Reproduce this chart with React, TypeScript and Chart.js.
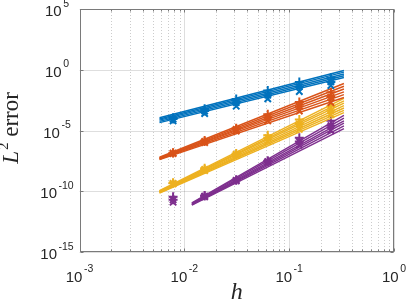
import React, { useEffect, useRef } from "react";
import { Chart, registerables } from "chart.js";
Chart.register(...registerables);

// ---- data ----
const H = [0.25, 0.125, 0.0625, 0.03125, 0.015625, 0.0078125];
const FIT_H = [0.0058, 0.333];
const FIT_H_PURPLE = [0.0118, 0.333];

const BLUE = "#0072BD";
const ORANGE = "#D95319";
const YELLOW = "#EDB120";
const PURPLE = "#7E2F8E";

const blueFitStart = [1.12e-4, 8.9e-5, 7.1e-5, 5.6e-5, 4.5e-5];
const blueFitEnd = [0.87, 0.63, 0.45, 0.32, 0.23];
const orangeFitStart = [6.3e-8, 5.6e-8, 5.0e-8, 5.0e-8, 4.5e-8, 4.0e-8];
const orangeFitEnd = [0.074, 0.044, 0.026, 0.015, 0.0089, 0.0052];
const yellowFitStart = [1.12e-10, 1e-10, 1e-10, 8.9e-11, 7.9e-11, 7.9e-11, 7.1e-11];
const yellowFitEnd = [0.0044, 0.0028, 0.0018, 0.0011, 7.1e-4, 4.5e-4, 3.0e-4];
const purpleFitStart = [1.12e-11, 1e-11, 8.9e-12, 7.9e-12, 7.9e-12, 7.1e-12];
const purpleFitEnd = [1.74e-4, 1.05e-4, 6.3e-5, 4.0e-5, 2.4e-5, 1.45e-5];

const blueX = [0.05, 0.016, 0.004, 1e-3, 2.5e-4, 6.3e-5];
const blueStar = [0.1, 0.04, 0.008, 0.002, 4e-4, 8.9e-5];
const bluePlus = [0.22, 0.1, 0.02, 0.004, 6.3e-4, 1.1e-4];
const orangeX = [0.002, 4e-4, 6.3e-5, 8.9e-6, 1e-6, 1.26e-7];
const orangeStar = [0.0056, 0.001, 1.26e-4, 1.26e-5, 1.26e-6, 1.4e-7];
const orangePlus = [0.014, 0.0022, 2.2e-4, 1.5e-5, 1.5e-6, 1.5e-7];
const yellowX = [2e-4, 1.26e-5, 1.26e-6, 8.9e-8, 5e-9, 4e-10];
const yellowStar = [4.5e-4, 3.5e-5, 2.5e-6, 1.12e-7, 6.3e-9, 4.5e-10];
const yellowPlus = [0.001, 8e-5, 4e-6, 1.26e-7, 7.9e-9, 5e-10];
const purpleX = [1e-5, 6.3e-7, 2.5e-8, 7.1e-10, 3.5e-11, 1.26e-11];
const purpleStar = [2.5e-5, 1.26e-6, 2.8e-8, 7.9e-10, 4e-11, 2e-11];
const purplePlus = [6.3e-5, 2.5e-6, 3.2e-8, 8.9e-10, 4.5e-11, 3.5e-11];

const X_TICK_DECADES = [-3, -2, -1, 0];
const X_TICK_EXP = ["-3", "-2", "-1", "0"];
const Y_TICK_DECADES = [5, 0, -5, -10, -15];
const Y_TICK_EXP = ["5", "0", "-5", "-10", "-15"];

const X_LABEL = "h";
const Y_LABEL_VAR = "L";
const Y_LABEL_SUP = "2";
const Y_LABEL_REST = " error";

// ---- helpers ----
function fitSets(xs: number[], starts: number[], ends: number[], color: string) {
  return starts.map((s, i) => ({
    data: [
      { x: xs[0], y: s },
      { x: xs[1], y: ends[i] },
    ],
    showLine: true,
    borderColor: color,
    backgroundColor: color,
    borderWidth: 1.4,
    pointRadius: 0,
  }));
}
function markerSet(vals: number[], style: string, color: string) {
  return {
    data: H.map((h, i) => ({ x: h, y: vals[i] })),
    showLine: false,
    pointStyle: style,
    pointRadius: 4.5,
    borderColor: color,
    backgroundColor: color,
    borderWidth: 2,
  };
}

const TEXT = "#262626";
const SANS = '"Liberation Sans", Arial, Helvetica, sans-serif';
const SERIF = '"Liberation Serif", "Times New Roman", serif';

const matlabPlugin = {
  id: "matlabAxes",
  beforeDatasetsDraw(chart: any) {
    const { ctx, chartArea: a, scales } = chart;
    const xs = scales.x;
    const ys = scales.y;
    ctx.save();
    ctx.lineWidth = 1;
    ctx.strokeStyle = "rgba(0,0,0,0.2)";
    ctx.setLineDash([1, 2]);
    for (const d of X_TICK_DECADES.slice(0, -1)) {
      for (let k = 2; k <= 9; k++) {
        const px = Math.round(xs.getPixelForValue(k * Math.pow(10, d))) + 0.5;
        ctx.beginPath();
        ctx.moveTo(px, a.top);
        ctx.lineTo(px, a.bottom);
        ctx.stroke();
      }
    }
    ctx.setLineDash([]);
    ctx.strokeStyle = "rgba(0,0,0,0.13)";
    for (const d of X_TICK_DECADES) {
      const px = Math.round(xs.getPixelForValue(Math.pow(10, d))) + 0.5;
      ctx.beginPath();
      ctx.moveTo(px, a.top);
      ctx.lineTo(px, a.bottom);
      ctx.stroke();
    }
    for (const d of Y_TICK_DECADES) {
      const py = Math.round(ys.getPixelForValue(Math.pow(10, d))) + 0.5;
      ctx.beginPath();
      ctx.moveTo(a.left, py);
      ctx.lineTo(a.right, py);
      ctx.stroke();
    }
    ctx.restore();
  },
  afterDraw(chart: any) {
    const { ctx, chartArea: a, scales } = chart;
    const xs = scales.x;
    const ys = scales.y;
    ctx.save();
    ctx.strokeStyle = "#7a7a7a";
    ctx.lineWidth = 1;
    const L = Math.round(a.left) + 0.5;
    const R = Math.round(a.right) - 0.5;
    const T = Math.round(a.top) + 0.5;
    const B = Math.round(a.bottom) - 0.5;
    ctx.strokeRect(L, T, R - L, B - T);
    ctx.beginPath();
    for (const d of X_TICK_DECADES) {
      const px = Math.round(xs.getPixelForValue(Math.pow(10, d))) + 0.5;
      ctx.moveTo(px, B);
      ctx.lineTo(px, B - 3);
      ctx.moveTo(px, T);
      ctx.lineTo(px, T + 3);
    }
    for (const d of X_TICK_DECADES.slice(0, -1)) {
      for (let k = 2; k <= 9; k++) {
        const px = Math.round(xs.getPixelForValue(k * Math.pow(10, d))) + 0.5;
        ctx.moveTo(px, B);
        ctx.lineTo(px, B - 2);
        ctx.moveTo(px, T);
        ctx.lineTo(px, T + 2);
      }
    }
    for (const d of Y_TICK_DECADES) {
      const py = Math.round(ys.getPixelForValue(Math.pow(10, d))) + 0.5;
      ctx.moveTo(L, py);
      ctx.lineTo(L + 3, py);
      ctx.moveTo(R, py);
      ctx.lineTo(R - 3, py);
    }
    ctx.stroke();

    ctx.fillStyle = TEXT;
    ctx.textBaseline = "alphabetic";
    ctx.textAlign = "left";
    const baseFont = `15px ${SANS}`;
    const expFont = `10.5px ${SANS}`;
    const measure = (exp: string) => {
      ctx.font = baseFont;
      const w1 = ctx.measureText("10").width;
      ctx.font = expFont;
      const w2 = ctx.measureText(exp).width;
      return { w1, w2, tot: w1 + 1.5 + w2 };
    };
    const drawPow = (exp: string, left: number, baseY: number) => {
      const m = measure(exp);
      ctx.font = baseFont;
      ctx.fillText("10", left, baseY);
      ctx.font = expFont;
      ctx.fillText(exp, left + m.w1 + 1.5, baseY - 9.5);
    };
    X_TICK_DECADES.forEach((d, i) => {
      const px = xs.getPixelForValue(Math.pow(10, d));
      const m = measure(X_TICK_EXP[i]);
      drawPow(X_TICK_EXP[i], px - m.tot / 2, 281.5);
    });
    Y_TICK_DECADES.forEach((d, i) => {
      const py = ys.getPixelForValue(Math.pow(10, d));
      const m = measure(Y_TICK_EXP[i]);
      drawPow(Y_TICK_EXP[i], 57 - m.tot / 2, py + 7);
    });

    ctx.font = `italic 24px ${SERIF}`;
    ctx.textAlign = "center";
    ctx.fillText(X_LABEL, (a.left + a.right) / 2, 299);

    ctx.translate(18, 128);
    ctx.rotate(-Math.PI / 2);
    ctx.textAlign = "left";
    ctx.font = `italic 23px ${SERIF}`;
    const wL = ctx.measureText(Y_LABEL_VAR).width;
    ctx.font = `15px ${SERIF}`;
    const w2 = ctx.measureText(Y_LABEL_SUP).width;
    ctx.font = `23px ${SERIF}`;
    const wr = ctx.measureText(Y_LABEL_REST).width;
    const tot = wL + 1 + w2 + wr;
    const x0 = -tot / 2;
    ctx.font = `italic 23px ${SERIF}`;
    ctx.fillText(Y_LABEL_VAR, x0, 0);
    ctx.font = `15px ${SERIF}`;
    ctx.fillText(Y_LABEL_SUP, x0 + wL + 1, -10);
    ctx.font = `23px ${SERIF}`;
    ctx.fillText(Y_LABEL_REST, x0 + wL + 1 + w2, 0);
    ctx.restore();
  },
};

export default function App() {
  const ref = useRef<HTMLCanvasElement | null>(null);
  useEffect(() => {
    document.body.style.margin = "0";
    const canvas = ref.current;
    if (!canvas) return;
    const datasets: any[] = [
      ...fitSets(FIT_H, blueFitStart, blueFitEnd, BLUE),
      markerSet(blueX, "crossRot", BLUE),
      markerSet(blueStar, "star", BLUE),
      markerSet(bluePlus, "cross", BLUE),
      ...fitSets(FIT_H, orangeFitStart, orangeFitEnd, ORANGE),
      markerSet(orangeX, "crossRot", ORANGE),
      markerSet(orangeStar, "star", ORANGE),
      markerSet(orangePlus, "cross", ORANGE),
      ...fitSets(FIT_H, yellowFitStart, yellowFitEnd, YELLOW),
      markerSet(yellowX, "crossRot", YELLOW),
      markerSet(yellowStar, "star", YELLOW),
      markerSet(yellowPlus, "cross", YELLOW),
      ...fitSets(FIT_H_PURPLE, purpleFitStart, purpleFitEnd, PURPLE),
      markerSet(purpleX, "crossRot", PURPLE),
      markerSet(purpleStar, "star", PURPLE),
      markerSet(purplePlus, "cross", PURPLE),
    ];
    const chart = new Chart(canvas, {
      type: "scatter",
      data: { datasets },
      options: {
        animation: false,
        responsive: false,
        devicePixelRatio: 1,
        layout: { padding: { top: 9, right: 13, left: 0, bottom: 0 } },
        plugins: { legend: { display: false }, tooltip: { enabled: false } },
        scales: {
          x: {
            type: "logarithmic",
            min: 1e-3,
            max: 1,
            grid: { display: false },
            border: { display: false },
            ticks: { display: false },
            afterFit: (s: any) => {
              s.height = 51;
            },
          },
          y: {
            type: "logarithmic",
            min: 1e-15,
            max: 1e5,
            grid: { display: false },
            border: { display: false },
            ticks: { display: false },
            afterFit: (s: any) => {
              s.width = 79.5;
            },
          },
        },
      } as any,
      plugins: [matlabPlugin],
    });
    return () => chart.destroy();
  }, []);
  return (
    <div style={{ position: "fixed", left: 0, top: 0, width: 407, height: 303, background: "#fff" }}>
      <canvas ref={ref} width={407} height={303} style={{ width: 407, height: 303, display: "block" }} />
    </div>
  );
}
